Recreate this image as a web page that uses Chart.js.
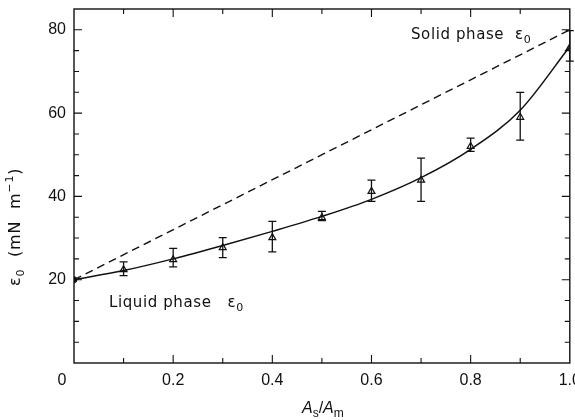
<!DOCTYPE html>
<html>
<head>
<meta charset="utf-8">
<script src="https://cdn.jsdelivr.net/npm/chart.js@4/dist/chart.umd.min.js"></script>
<style>
  html, body { margin: 0; padding: 0; background: #fff; }
  #wrap { width: 575px; height: 420px; }
</style>
</head>
<body>
<div id="wrap"><canvas id="chart" width="575" height="420"></canvas></div>
<script>
// data
const xValues = [0, 0.1, 0.2, 0.3, 0.4, 0.5, 0.6, 0.7, 0.8, 0.9, 1.0];
const fitCurve = [20, 22.2, 25, 28.2, 31.6, 35.2, 39.3, 44.5, 51.3, 60.7, 76];
const measX = [0.1, 0.2, 0.3, 0.4, 0.5, 0.6, 0.7, 0.8, 0.9, 1.0];
const measured = [22.4, 24.8, 27.7, 30.1, 34.9, 41.2, 43.9, 52, 59, 75.7];
const errLow = [21, 23.1, 25.3, 26.7, 34.2, 38.8, 38.8, 50.8, 53.5, 72.5];
const errHigh = [24.3, 27.5, 30.1, 34, 36.4, 43.9, 49.2, 54, 65, 79.8];
const solidX = [0, 1.0];
const solidLine = [20, 80];
const liquidX = [0];
const liquidPoint = [20];
const xTickLabels = ['0', '0.2', '0.4', '0.6', '0.8', '1.0'];
const yTickLabels = ['20', '40', '60', '80'];

const ink = '#111';
const labelFont = '"DejaVu Sans", sans-serif';
const tickFont = '"Liberation Sans", Arial, sans-serif';

const toPts = (xs, ys) => xs.map((x, i) => ({ x: x, y: ys[i] }));

// draw a run of text pieces (sub/superscripts) starting at x,y
function drawRuns(ctx, runs, x, y) {
  runs.forEach(r => {
    ctx.font = r.font;
    ctx.fillText(r.text, x, y + (r.dy || 0));
    x += ctx.measureText(r.text).width;
  });
}

const extrasPlugin = {
  id: 'extras',
  afterDatasetsDraw(chart) {
    const ctx = chart.ctx;
    const xs = chart.scales.x, ys = chart.scales.y;
    // error bars
    ctx.save();
    ctx.strokeStyle = ink;
    ctx.lineWidth = 1.3;
    measX.forEach((v, i) => {
      const px = xs.getPixelForValue(v);
      const top = ys.getPixelForValue(errHigh[i]);
      const bot = ys.getPixelForValue(errLow[i]);
      ctx.beginPath();
      ctx.moveTo(px, top); ctx.lineTo(px, bot);
      ctx.moveTo(px - 4, top); ctx.lineTo(px + 4, top);
      ctx.moveTo(px - 4, bot); ctx.lineTo(px + 4, bot);
      ctx.stroke();
    });
    ctx.restore();
  },
  afterDraw(chart) {
    const ctx = chart.ctx;
    const a = chart.chartArea;
    const xs = chart.scales.x, ys = chart.scales.y;
    ctx.save();
    // frame
    ctx.strokeStyle = ink;
    ctx.lineWidth = 1.4;
    ctx.strokeRect(a.left, a.top, a.right - a.left, a.bottom - a.top);
    // inward ticks on all four sides
    ctx.lineWidth = 1.1;
    ctx.beginPath();
    for (let k = 1; k < 10; k++) {
      const v = k / 10;
      const px = xs.getPixelForValue(v);
      const len = (k % 2 === 0) ? 8 : 5;
      ctx.moveTo(px, a.bottom); ctx.lineTo(px, a.bottom - len);
      ctx.moveTo(px, a.top); ctx.lineTo(px, a.top + len);
    }
    for (let v = 5; v <= 80; v += 5) {
      const py = ys.getPixelForValue(v);
      const len = (v % 20 === 0) ? 8 : 5;
      ctx.moveTo(a.left, py); ctx.lineTo(a.left + len, py);
      ctx.moveTo(a.right, py); ctx.lineTo(a.right - len, py);
    }
    ctx.stroke();

    ctx.fillStyle = ink;
    ctx.textBaseline = 'alphabetic';
    ctx.textAlign = 'left';

    // annotations
    ctx.letterSpacing = '0.6px';
    drawRuns(ctx, [
      { text: 'Solid phase \u00a0\u03b5', font: '15px ' + labelFont },
      { text: '0', font: '11px ' + labelFont, dy: 4 }
    ], 411, 39);
    drawRuns(ctx, [
      { text: 'Liquid phase \u00a0\u00a0\u03b5', font: '15px ' + labelFont },
      { text: '0', font: '11px ' + labelFont, dy: 4 }
    ], 109, 307);
    ctx.letterSpacing = '0px';

    // x axis title A_s / A_m
    drawRuns(ctx, [
      { text: 'A', font: 'italic 16px ' + tickFont },
      { text: 's', font: '12px ' + tickFont, dy: 4 },
      { text: '/', font: '16px ' + tickFont },
      { text: 'A', font: 'italic 16px ' + tickFont },
      { text: 'm', font: '12px ' + tickFont, dy: 4 }
    ], 302, 413);

    // y axis title
    ctx.translate(20, 286);
    ctx.rotate(-Math.PI / 2);
    ctx.letterSpacing = '0.8px';
    drawRuns(ctx, [
      { text: '\u03b5', font: '16px ' + labelFont },
      { text: '0', font: '11px ' + labelFont, dy: 4 },
      { text: '  (mN  m', font: '16px ' + labelFont },
      { text: '\u22121', font: '11px ' + labelFont, dy: -7 },
      { text: ')', font: '16px ' + labelFont }
    ], 0, 0);
    ctx.restore();
  }
};

new Chart(document.getElementById('chart'), {
  type: 'scatter',
  data: {
    datasets: [
      {
        label: 'Solid phase',
        data: toPts(solidX, solidLine),
        showLine: true,
        borderColor: ink,
        borderWidth: 1.4,
        borderDash: [8, 5],
        pointRadius: 0
      },
      {
        label: 'Fit',
        data: toPts(xValues, fitCurve),
        showLine: true,
        borderColor: ink,
        borderWidth: 1.5,
        cubicInterpolationMode: 'monotone',
        pointRadius: 0
      },
      {
        label: 'Measured',
        data: toPts(measX, measured),
        pointStyle: 'triangle',
        pointRadius: 4,
        pointBackgroundColor: 'rgba(255,255,255,0)',
        pointBorderColor: ink,
        pointBorderWidth: 1.2
      },
      {
        label: 'Liquid phase',
        data: toPts(liquidX, liquidPoint),
        pointRadius: 3,
        pointBackgroundColor: ink,
        pointBorderColor: ink
      }
    ]
  },
  options: {
    responsive: false,
    animation: false,
    layout: { padding: { top: 9, right: 4, left: 0, bottom: 0 } },
    plugins: {
      legend: { display: false },
      tooltip: { enabled: false }
    },
    scales: {
      x: {
        type: 'linear',
        min: 0,
        max: 1.0,
        grid: { display: false, drawTicks: false },
        border: { display: false },
        ticks: {
          stepSize: 0.2,
          padding: 8,
          color: ink,
          maxRotation: 0,
          font: { family: tickFont, size: 16 },
          callback: (v) => {
            const i = Math.round(v / 0.2);
            if (Math.abs(v - i * 0.2) > 1e-6) return '';
            return i === 0 ? xTickLabels[0] + '\u2003\u2002' : xTickLabels[i];
          }
        },
        afterFit: (s) => { s.height = 57; s.paddingLeft = 0; s.paddingRight = 0; }
      },
      y: {
        type: 'linear',
        min: 0,
        max: 85,
        grid: { display: false, drawTicks: false },
        border: { display: false },
        ticks: {
          stepSize: 20,
          padding: 8,
          color: ink,
          font: { family: tickFont, size: 16 },
          callback: (v) => {
            const i = Math.round(v / 20) - 1;
            if (v % 20 !== 0 || i < 0 || i >= yTickLabels.length) return '';
            return yTickLabels[i];
          }
        },
        afterFit: (s) => { s.width = 74; s.paddingTop = 0; s.paddingBottom = 0; }
      }
    }
  },
  plugins: [extrasPlugin]
});
</script>
</body>
</html>
